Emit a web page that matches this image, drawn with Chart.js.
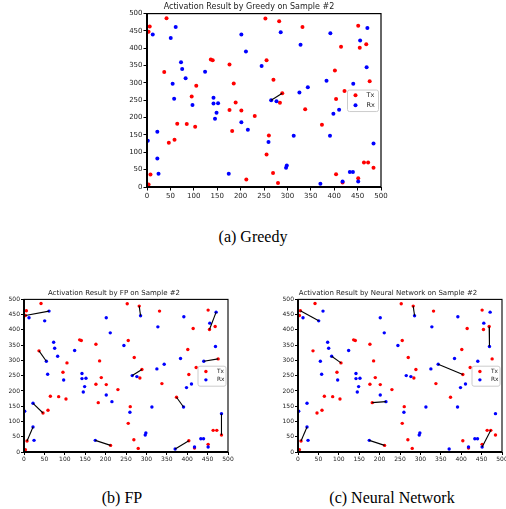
<!DOCTYPE html>
<html>
<head>
<meta charset="utf-8">
<script src="https://cdn.jsdelivr.net/npm/chart.js@4.4.0/dist/chart.umd.min.js"></script>
<style>
  html, body { margin: 0; padding: 0; background: #fff; width: 506px; height: 509px; overflow: hidden; }
  canvas { position: absolute; }
  .cap { position: absolute; font-family: "Liberation Serif", serif; font-size: 16px; line-height: 16px; color: #000; white-space: nowrap; transform: translateX(-50%); }
</style>
</head>
<body>
<canvas id="greedyChart" width="272" height="201" style="left:117px;top:0px"></canvas>
<canvas id="fpChart" width="234" height="178" style="left:0px;top:286px"></canvas>
<canvas id="nnChart" width="234" height="178" style="left:274px;top:286px"></canvas>
<div class="cap" style="left:253px;top:229px">(a) Greedy</div>
<div class="cap" style="left:122px;top:490px">(b) FP</div>
<div class="cap" style="left:392px;top:490px">(c) Neural Network</div>
<script>
// transmitters (red) and receivers (blue), same sample in all three plots
const txX = [5.8, 41.7, 3.4, 36.8, 136.4, 140.4, 176.3, 105.3, 185.3, 95.5,
             189.4, 176.3, 201.6, 230.2, 253, 282.4, 332.2, 451.3, 454.6, 468.5,
             414.6, 255.5, 401.5, 270.2, 475.8, 289, 284, 404, 422, 338,
             64.6, 85, 102.9, 182, 46.6, 58.8, 7.4, 3.4, 212.2, 260.4,
             373.8, 255.5, 269.3, 279.9, 404, 463.6, 472.5, 484, 451.3, 417.9];
const txY = [462.7, 486.8, 447.4, 331.4, 367.5, 365.3, 353.2, 292, 298.5, 261.3,
             243.8, 221.9, 220.8, 204.5, 485.6, 478, 461.6, 464.9, 401.4, 411.3,
             404.7, 365.3, 335.8, 309.5, 305.1, 270.1, 242.7, 253.7, 276.7, 224.1,
             182.5, 181.4, 173.8, 161.7, 127.8, 136.6, 35.9, 7.5, 21.7, 148.6,
             179.3, 93.9, 40.3, 11.8, 37, 70.9, 70.9, 55.6, 25, 12.9];
const rxX = [61.3, 12.3, 50.7, 201.6, 211.4, 72.7, 75.2, 82.5, 124.1, 54.8,
             58, 97.2, 142.1, 142.1, 151.9, 148.6, 285.7, 391.8, 470.9, 455.4,
             328.1, 244.9, 469.3, 383.6, 440.7, 343.6, 325.7, 265.3, 276.7, 410.5,
             398.3, 145.3, 201.6, 215.5, 22.1, 1.7, 22.1, 24.6, 174.7, 259.6,
             313.5, 391, 298.7, 297.1, 370.5, 417.9, 433.4, 440, 451.3, 484];
const rxY = [461.6, 439.7, 429.8, 439.7, 390.4, 359.8, 340.1, 313.9, 332.5, 297.4,
             254.8, 236.1, 257, 240.5, 241.6, 214.3, 446.3, 443, 458.3, 422.2,
             410.1, 348.9, 345.6, 306.2, 297.4, 287.6, 272.3, 250.4, 247.1, 223,
             211, 196.8, 187, 165, 159.6, 133.3, 81.9, 38.1, 38.1, 130,
             147.5, 147.5, 62.2, 55.6, 9.6, 16.2, 43.6, 43.6, 16.2, 125.6];

// active links as [tx index, rx index]
const greedyLinks = [[25, 27]];
const fpLinks = [[2, 0], [3, 9], [15, 16], [18, 18], [24, 24], [25, 27],
                 [34, 34], [36, 36], [38, 38], [40, 41], [47, 49], [44, 44]];
const nnLinks = [[0, 2], [7, 7], [15, 16], [19, 22], [27, 25], [36, 36],
                 [33, 33], [38, 38], [46, 48]];

const tickValues = [0, 50, 100, 150, 200, 250, 300, 350, 400, 450, 500];
const legendLabels = ['Tx', 'Rx'];
const legendColors = ['#ff0000', '#0000ff'];

function toPoints(xs, ys) {
    return xs.map(function(x, i) { return { x: x, y: ys[i] }; });
}

// black frame around the plot, drawn over the points like matplotlib spines
const framePlugin = {
    id: 'frame',
    afterDatasetsDraw(chart, args, opts) {
        const { ctx, chartArea: { left, right, top, bottom } } = chart;
        ctx.save();
        ctx.strokeStyle = '#000';
        ctx.lineWidth = opts.thin;
        ctx.strokeRect(left, top, right - left, bottom - top);
        ctx.lineWidth = opts.thick;
        ctx.beginPath();
        ctx.moveTo(left, top);
        ctx.lineTo(left, bottom);
        ctx.lineTo(right, bottom);
        ctx.stroke();
        ctx.restore();
    }
};

// legend box sitting inside the axes, centre right
const innerLegend = {
    id: 'innerLegend',
    afterDraw(chart, args, o) {
        const { ctx, chartArea } = chart;
        const bx = chartArea.right - o.pad - o.w;
        const by = (chartArea.top + chartArea.bottom) / 2 - o.h / 2;
        ctx.save();
        ctx.fillStyle = 'rgba(255,255,255,0.8)';
        ctx.strokeStyle = '#cccccc';
        ctx.lineWidth = 1;
        ctx.beginPath();
        ctx.roundRect(bx + 0.5, by + 0.5, o.w, o.h, 2);
        ctx.fill();
        ctx.stroke();
        ctx.font = o.font + 'px "DejaVu Sans"';
        ctx.textBaseline = 'middle';
        legendLabels.forEach(function(lab, i) {
            const cy = by + o.h / 2 + (i - 0.5) * o.gap;
            ctx.fillStyle = legendColors[i];
            ctx.beginPath();
            ctx.arc(bx + o.mx, cy, o.dot, 0, Math.PI * 2);
            ctx.fill();
            ctx.fillStyle = '#222';
            ctx.fillText(lab, bx + o.tx, cy);
        });
        ctx.restore();
    }
};

function axis(pos, c) {
    return {
        type: 'linear',
        position: pos,
        min: 0,
        max: 500,
        afterBuildTicks: function(s) {
            s.ticks = tickValues.map(function(v) { return { value: v }; });
        },
        afterFit: function(s) {
            if (pos === 'bottom') {
                s.height = c.xH;
                s.paddingLeft = 0;
                s.paddingRight = 0;
            } else {
                s.width = c.yW;
                s.paddingTop = 0;
                s.paddingBottom = 0;
            }
        },
        grid: { drawOnChartArea: false, drawTicks: true, tickLength: c.tick, tickColor: '#000', tickWidth: 1 },
        border: { display: false },
        ticks: {
            font: { family: 'DejaVu Sans', size: c.tickFont },
            color: '#222',
            padding: 1,
            maxRotation: 0,
            autoSkip: false
        }
    };
}

function makeChart(id, titleText, links, c) {
    const tx = toPoints(txX, txY);
    const rx = toPoints(rxX, rxY);
    const datasets = links.map(function(l) {
        return {
            label: 'link',
            data: [tx[l[0]], rx[l[1]]],
            showLine: true,
            borderColor: '#000',
            borderWidth: 1.1,
            pointRadius: 0
        };
    });
    datasets.push({ label: 'Rx', data: rx, backgroundColor: '#0000ff', borderWidth: 0, pointRadius: c.dot });
    datasets.push({ label: 'Tx', data: tx, backgroundColor: '#ff0000', borderWidth: 0, pointRadius: c.dot });

    return new Chart(document.getElementById(id), {
        type: 'scatter',
        data: { datasets: datasets },
        options: {
            responsive: false,
            animation: false,
            devicePixelRatio: 1,
            layout: { padding: { top: c.padTop, right: c.padRight, left: 0, bottom: 0 } },
            scales: { x: axis('bottom', c), y: axis('left', c) },
            plugins: {
                legend: { display: false },
                tooltip: { enabled: false },
                title: {
                    display: true,
                    text: titleText,
                    color: '#222',
                    font: { family: 'DejaVu Sans', size: c.titleFont, weight: 'normal', lineHeight: 1.2 },
                    padding: { top: 0, bottom: 2 }
                },
                frame: { thin: c.frame, thick: c.frame + 0.8 },
                innerLegend: c.legend
            }
        },
        plugins: [framePlugin, innerLegend]
    });
}

makeChart('greedyChart', 'Activation Result by Greedy on Sample #2', greedyLinks, {
    yW: 30, xH: 14, padTop: 2, padRight: 8, tick: 3.5, tickFont: 7, titleFont: 8, dot: 2, frame: 1.2,
    legend: { w: 31, h: 21.5, pad: 3, font: 6.5, gap: 10, mx: 8.5, tx: 19.5, dot: 2 }
});
makeChart('fpChart', 'Activation Result by FP on Sample #2', fpLinks, {
    yW: 24, xH: 12, padTop: 3, padRight: 6, tick: 3, tickFont: 6, titleFont: 7, dot: 1.7, frame: 1.1,
    legend: { w: 28, h: 20, pad: 2.5, font: 5.8, gap: 8.3, mx: 8.4, tx: 19.5, dot: 1.7 }
});
makeChart('nnChart', 'Activation Result by Neural Network on Sample #2', nnLinks, {
    yW: 24, xH: 12, padTop: 3, padRight: 6, tick: 3, tickFont: 6, titleFont: 7, dot: 1.7, frame: 1.1,
    legend: { w: 28, h: 20, pad: 2.5, font: 5.8, gap: 8.3, mx: 8.4, tx: 19.5, dot: 1.7 }
});
</script>
</body>
</html>
